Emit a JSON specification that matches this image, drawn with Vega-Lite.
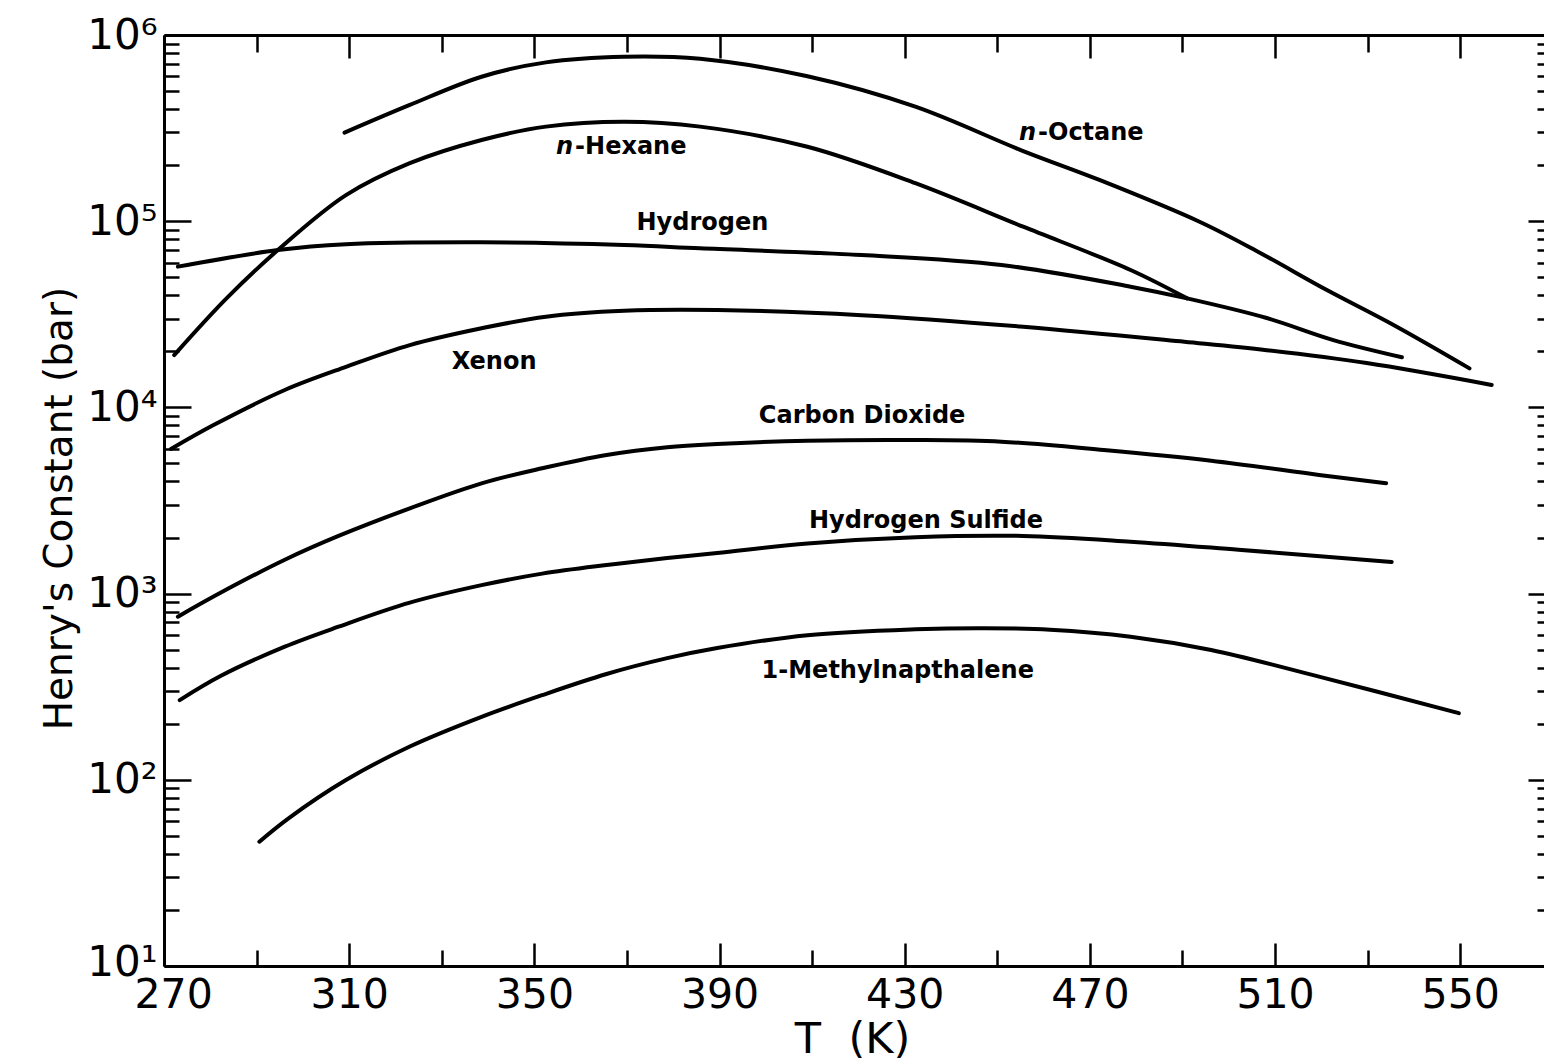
{
  "$schema": "https://vega.github.io/schema/vega-lite/v6.json",
  "width": 1380,
  "height": 931,
  "autosize": {"type": "none"},
  "padding": {"left": 164, "top": 35, "right": 0, "bottom": 97},
  "background": "white",
  "config": {"view": {"stroke": null}},
  "resolve": {"scale": {"x": "independent", "y": "independent"}, "axis": {"x": "independent", "y": "independent"}},
  "layer": [
    {
      "data": {"values": [
        {"gas": "n-Octane", "T": 309.0, "H": 299000},
        {"gas": "n-Octane", "T": 323.1, "H": 421000},
        {"gas": "n-Octane", "T": 338.6, "H": 597000},
        {"gas": "n-Octane", "T": 352.5, "H": 713000},
        {"gas": "n-Octane", "T": 369.4, "H": 765000},
        {"gas": "n-Octane", "T": 385.8, "H": 745000},
        {"gas": "n-Octane", "T": 409.0, "H": 600000},
        {"gas": "n-Octane", "T": 432.3, "H": 412000},
        {"gas": "n-Octane", "T": 455.6, "H": 238000},
        {"gas": "n-Octane", "T": 472.2, "H": 166000},
        {"gas": "n-Octane", "T": 493.8, "H": 99000},
        {"gas": "n-Octane", "T": 506.8, "H": 67500},
        {"gas": "n-Octane", "T": 521.2, "H": 42700},
        {"gas": "n-Octane", "T": 535.6, "H": 27700},
        {"gas": "n-Octane", "T": 552.0, "H": 16200},
        {"gas": "n-Hexane", "T": 272.2, "H": 19100},
        {"gas": "n-Hexane", "T": 283.5, "H": 38500},
        {"gas": "n-Hexane", "T": 294.6, "H": 70000},
        {"gas": "n-Hexane", "T": 309.3, "H": 138000},
        {"gas": "n-Hexane", "T": 323.1, "H": 205000},
        {"gas": "n-Hexane", "T": 338.6, "H": 273000},
        {"gas": "n-Hexane", "T": 352.5, "H": 322000},
        {"gas": "n-Hexane", "T": 369.4, "H": 342000},
        {"gas": "n-Hexane", "T": 385.8, "H": 322000},
        {"gas": "n-Hexane", "T": 409.0, "H": 251000},
        {"gas": "n-Hexane", "T": 432.3, "H": 160000},
        {"gas": "n-Hexane", "T": 455.6, "H": 93400},
        {"gas": "n-Hexane", "T": 478.8, "H": 54700},
        {"gas": "n-Hexane", "T": 491.0, "H": 38500},
        {"gas": "Hydrogen", "T": 273.0, "H": 57000},
        {"gas": "Hydrogen", "T": 294.6, "H": 70000},
        {"gas": "Hydrogen", "T": 309.3, "H": 75200},
        {"gas": "Hydrogen", "T": 338.6, "H": 77000},
        {"gas": "Hydrogen", "T": 369.4, "H": 74500},
        {"gas": "Hydrogen", "T": 385.8, "H": 71500},
        {"gas": "Hydrogen", "T": 420.7, "H": 65800},
        {"gas": "Hydrogen", "T": 450.9, "H": 58200},
        {"gas": "Hydrogen", "T": 478.8, "H": 44500},
        {"gas": "Hydrogen", "T": 491.0, "H": 38500},
        {"gas": "Hydrogen", "T": 508.2, "H": 30200},
        {"gas": "Hydrogen", "T": 522.6, "H": 23000},
        {"gas": "Hydrogen", "T": 537.4, "H": 18600},
        {"gas": "Xenon", "T": 271.5, "H": 5980},
        {"gas": "Xenon", "T": 280.7, "H": 8040},
        {"gas": "Xenon", "T": 296.1, "H": 12400},
        {"gas": "Xenon", "T": 309.3, "H": 16500},
        {"gas": "Xenon", "T": 323.1, "H": 21600},
        {"gas": "Xenon", "T": 338.6, "H": 26600},
        {"gas": "Xenon", "T": 352.5, "H": 30700},
        {"gas": "Xenon", "T": 369.4, "H": 33000},
        {"gas": "Xenon", "T": 389.5, "H": 33300},
        {"gas": "Xenon", "T": 420.7, "H": 31300},
        {"gas": "Xenon", "T": 455.6, "H": 27100},
        {"gas": "Xenon", "T": 490.4, "H": 22500},
        {"gas": "Xenon", "T": 508.2, "H": 20300},
        {"gas": "Xenon", "T": 529.8, "H": 17300},
        {"gas": "Xenon", "T": 556.8, "H": 13200},
        {"gas": "Carbon Dioxide", "T": 273.0, "H": 752},
        {"gas": "Carbon Dioxide", "T": 282.2, "H": 1010},
        {"gas": "Carbon Dioxide", "T": 296.1, "H": 1520},
        {"gas": "Carbon Dioxide", "T": 307.7, "H": 2040},
        {"gas": "Carbon Dioxide", "T": 323.1, "H": 2870},
        {"gas": "Carbon Dioxide", "T": 338.6, "H": 3910},
        {"gas": "Carbon Dioxide", "T": 351.7, "H": 4710},
        {"gas": "Carbon Dioxide", "T": 365.6, "H": 5550},
        {"gas": "Carbon Dioxide", "T": 378.7, "H": 6110},
        {"gas": "Carbon Dioxide", "T": 389.5, "H": 6360},
        {"gas": "Carbon Dioxide", "T": 409.0, "H": 6620},
        {"gas": "Carbon Dioxide", "T": 432.3, "H": 6680},
        {"gas": "Carbon Dioxide", "T": 450.9, "H": 6540},
        {"gas": "Carbon Dioxide", "T": 473.0, "H": 5900},
        {"gas": "Carbon Dioxide", "T": 496.2, "H": 5170},
        {"gas": "Carbon Dioxide", "T": 519.5, "H": 4340},
        {"gas": "Carbon Dioxide", "T": 534.0, "H": 3910},
        {"gas": "Hydrogen Sulfide", "T": 273.4, "H": 268},
        {"gas": "Hydrogen Sulfide", "T": 282.2, "H": 361},
        {"gas": "Hydrogen Sulfide", "T": 296.1, "H": 519},
        {"gas": "Hydrogen Sulfide", "T": 307.7, "H": 664},
        {"gas": "Hydrogen Sulfide", "T": 323.1, "H": 894},
        {"gas": "Hydrogen Sulfide", "T": 338.6, "H": 1110},
        {"gas": "Hydrogen Sulfide", "T": 351.7, "H": 1280},
        {"gas": "Hydrogen Sulfide", "T": 365.6, "H": 1424},
        {"gas": "Hydrogen Sulfide", "T": 378.7, "H": 1553},
        {"gas": "Hydrogen Sulfide", "T": 389.5, "H": 1652},
        {"gas": "Hydrogen Sulfide", "T": 409.0, "H": 1860},
        {"gas": "Hydrogen Sulfide", "T": 432.3, "H": 2010},
        {"gas": "Hydrogen Sulfide", "T": 455.6, "H": 2040},
        {"gas": "Hydrogen Sulfide", "T": 478.8, "H": 1900},
        {"gas": "Hydrogen Sulfide", "T": 502.1, "H": 1720},
        {"gas": "Hydrogen Sulfide", "T": 535.2, "H": 1480},
        {"gas": "1-Methylnapthalene", "T": 290.6, "H": 46.5},
        {"gas": "1-Methylnapthalene", "T": 296.9, "H": 62.1},
        {"gas": "1-Methylnapthalene", "T": 309.3, "H": 99.7},
        {"gas": "1-Methylnapthalene", "T": 323.1, "H": 151},
        {"gas": "1-Methylnapthalene", "T": 338.6, "H": 218},
        {"gas": "1-Methylnapthalene", "T": 351.7, "H": 285},
        {"gas": "1-Methylnapthalene", "T": 365.6, "H": 370},
        {"gas": "1-Methylnapthalene", "T": 378.7, "H": 450},
        {"gas": "1-Methylnapthalene", "T": 389.5, "H": 510},
        {"gas": "1-Methylnapthalene", "T": 409.0, "H": 598},
        {"gas": "1-Methylnapthalene", "T": 432.3, "H": 643},
        {"gas": "1-Methylnapthalene", "T": 447.0, "H": 652},
        {"gas": "1-Methylnapthalene", "T": 461.4, "H": 640},
        {"gas": "1-Methylnapthalene", "T": 478.8, "H": 587},
        {"gas": "1-Methylnapthalene", "T": 496.2, "H": 498},
        {"gas": "1-Methylnapthalene", "T": 519.5, "H": 358},
        {"gas": "1-Methylnapthalene", "T": 549.7, "H": 228}
      ]},
      "mark": {"type": "line", "interpolate": "catmull-rom", "strokeWidth": 4, "color": "black", "strokeCap": "round"},
      "encoding": {
        "detail": {"field": "gas", "type": "nominal"},
        "x": {
          "field": "T", "type": "quantitative",
          "scale": {"domain": [270, 568.1], "nice": false, "zero": false},
          "axis": {
            "orient": "bottom",
            "values": [270, 290, 310, 330, 350, 370, 390, 410, 430, 450, 470, 490, 510, 530, 550],
            "format": "d",
            "labelExpr": "(datum.value - 270) % 40 == 0 ? datum.label : ''",
            "grid": false,
            "tickSize": {"condition": {"test": "(datum.value - 270) % 40 == 0", "value": -23}, "value": -16},
            "tickWidth": 2.5, "tickColor": "black",
            "domainWidth": 3, "domainColor": "black",
            "labelFont": "DejaVu Sans", "labelFontSize": 41, "labelColor": "black",
            "labelPadding": 32, "labelFlush": 1, "labelFlushOffset": 30, "labelOverlap": false, "labelBound": false,
            "title": "T\u00a0\u00a0(K)",
            "titleFont": "DejaVu Sans", "titleFontSize": 43, "titleFontWeight": "normal", "titleColor": "black",
            "titleX": 688, "titleY": 86, "titleAlign": "center", "titleBaseline": "alphabetic"
          }
        },
        "y": {
          "field": "H", "type": "quantitative",
          "scale": {"type": "log", "domain": [10, 1000000], "nice": false},
          "axis": {
            "orient": "left",
            "values": [10, 20, 30, 40, 50, 60, 70, 80, 90, 100, 200, 300, 400, 500, 600, 700, 800, 900, 1000, 2000, 3000, 4000, 5000, 6000, 7000, 8000, 9000, 10000, 20000, 30000, 40000, 50000, 60000, 70000, 80000, 90000, 100000, 200000, 300000, 400000, 500000, 600000, 700000, 800000, 900000, 1000000],
            "labelExpr": "datum.value == 10 ? '10¹' : datum.value == 100 ? '10²' : datum.value == 1000 ? '10³' : datum.value == 10000 ? '10⁴' : datum.value == 100000 ? '10⁵' : datum.value == 1000000 ? '10⁶' : ''",
            "grid": false,
            "tickSize": {"condition": {"test": "indexof([10,100,1000,10000,100000,1000000], datum.value) >= 0", "value": -27}, "value": -15},
            "tickWidth": 2.5, "tickColor": "black",
            "domainWidth": 3, "domainColor": "black",
            "labelFont": "DejaVu Sans", "labelFontSize": 42, "labelColor": "black",
            "labelOffset": {"condition": {"test": "datum.value == 10", "value": -4}, "value": 0},
            "labelPadding": 34, "labelOverlap": false, "labelBound": false, "labelFlush": false,
            "title": "Henry's Constant (bar)",
            "titleFont": "DejaVu Sans", "titleFontSize": 39, "titleFontWeight": "normal", "titleColor": "black",
            "titleX": -105, "titleY": 473, "titleAngle": 270, "titleAlign": "center", "titleBaseline": "middle"
          }
        }
      }
    },
    {
      "data": {"values": [
        {"label": "Hydrogen", "T": 386.3, "H": 97200},
        {"label": "Xenon", "T": 341.3, "H": 17600},
        {"label": "Carbon Dioxide", "T": 420.8, "H": 8990},
        {"label": "Hydrogen Sulfide", "T": 434.6, "H": 2455},
        {"label": "1-Methylnapthalene", "T": 428.5, "H": 384}
      ]},
      "mark": {"type": "text", "font": "DejaVu Sans", "fontWeight": "bold", "fontSize": 24, "color": "black", "align": "center", "baseline": "middle"},
      "encoding": {
        "text": {"field": "label", "type": "nominal"},
        "x": {
          "field": "T", "type": "quantitative",
          "scale": {"domain": [270, 568.1], "nice": false, "zero": false},
          "axis": {
            "orient": "top",
            "values": [270, 290, 310, 330, 350, 370, 390, 410, 430, 450, 470, 490, 510, 530, 550],
            "labels": false, "grid": false, "title": null,
            "tickSize": {"condition": {"test": "(datum.value - 270) % 40 == 0", "value": -23}, "value": -17},
            "tickWidth": 2.5, "tickColor": "black",
            "domainWidth": 3, "domainColor": "black"
          }
        },
        "y": {
          "field": "H", "type": "quantitative",
          "scale": {"type": "log", "domain": [10, 1000000], "nice": false},
          "axis": {
            "orient": "right",
            "values": [10, 20, 30, 40, 50, 60, 70, 80, 90, 100, 200, 300, 400, 500, 600, 700, 800, 900, 1000, 2000, 3000, 4000, 5000, 6000, 7000, 8000, 9000, 10000, 20000, 30000, 40000, 50000, 60000, 70000, 80000, 90000, 100000, 200000, 300000, 400000, 500000, 600000, 700000, 800000, 900000, 1000000],
            "labels": false, "grid": false, "title": null, "domain": false,
            "tickSize": {"condition": {"test": "indexof([10,100,1000,10000,100000,1000000], datum.value) >= 0", "value": -16}, "value": -7},
            "tickWidth": 2.5, "tickColor": "black"
          }
        }
      }
    },
    {
      "data": {"values": [
        {"label": "n", "T": 358.8, "H": 251200},
        {"label": "n", "T": 458.8, "H": 297700}
      ]},
      "mark": {"type": "text", "font": "DejaVu Sans", "fontWeight": "bold", "fontStyle": "italic", "fontSize": 24, "color": "black", "align": "right", "baseline": "middle", "dx": -2},
      "encoding": {
        "text": {"field": "label", "type": "nominal"},
        "x": {"field": "T", "type": "quantitative", "scale": {"domain": [270, 568.1], "nice": false, "zero": false}, "axis": null},
        "y": {"field": "H", "type": "quantitative", "scale": {"type": "log", "domain": [10, 1000000], "nice": false}, "axis": null}
      }
    },
    {
      "data": {"values": [
        {"label": "-Hexane", "T": 358.8, "H": 251200},
        {"label": "-Octane", "T": 458.8, "H": 297700}
      ]},
      "mark": {"type": "text", "font": "DejaVu Sans", "fontWeight": "bold", "fontSize": 24, "color": "black", "align": "left", "baseline": "middle"},
      "encoding": {
        "text": {"field": "label", "type": "nominal"},
        "x": {"field": "T", "type": "quantitative", "scale": {"domain": [270, 568.1], "nice": false, "zero": false}, "axis": null},
        "y": {"field": "H", "type": "quantitative", "scale": {"type": "log", "domain": [10, 1000000], "nice": false}, "axis": null}
      }
    }
  ]
}
